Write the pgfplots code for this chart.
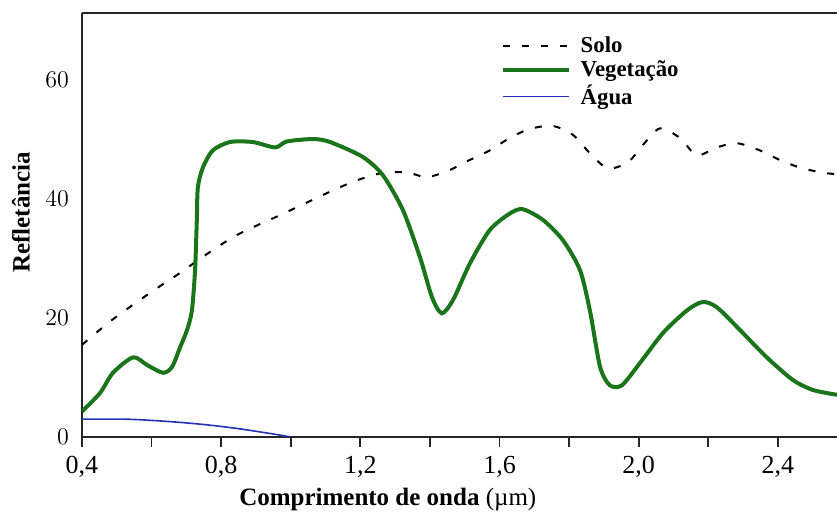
\documentclass[border=0pt]{standalone}
\usepackage{fontspec}
\setmainfont{Liberation Serif}
\usepackage{pgfplots}
\pgfplotsset{compat=1.18}
\usetikzlibrary{calc}
\definecolor{vegverde}{HTML}{1A741A}
\definecolor{aguaazul}{HTML}{2233B8}

\begin{document}
\begin{tikzpicture}
\begin{axis}[
  scale only axis, width=377.5pt, height=212pt,
  xmin=0.4, xmax=2.57, ymin=0, ymax=71.3,
  axis x line*=box, axis y line*=left,
  axis line style={line width=0.9pt, black!85},
  xtick={0.4,0.8,1.2,1.6,2.0,2.4},
  xticklabels={{0,4},{0,8},{1,2},{1,6},{2,0},{2,4}},
  minor xtick={0.6,1.0,1.4,1.8,2.2},
  xtick pos=bottom, tick align=outside,
  major tick length=5pt, minor tick length=5pt,
  every tick/.style={line width=0.9pt, black!85},
  ytick={0,20,40,60}, ytick pos=left,
  ytick style={draw=none},
  tick label style={font=\fontsize{13}{15}\selectfont},
  xticklabel style={yshift=-1pt},
  yticklabel style={xshift=2pt},
  xlabel={\textbf{Comprimento de onda} (µm)},
  xlabel style={at={(rel axis cs:0.405,0)}, anchor=north, yshift=-22pt, font=\fontsize{12.5}{14}\selectfont},
  ylabel={\textbf{Refletância}},
  ylabel style={at={(rel axis cs:0,0.53)}, anchor=south, yshift=22.5pt, font=\fontsize{12.5}{14}\selectfont},
  legend style={at={(rel axis cs:0.554,0.955)}, anchor=north west, draw=none, fill=none,
    font=\fontsize{11.4}{12}\selectfont\bfseries, inner sep=0pt, row sep=-1.2pt,
    column sep=3pt},
  legend cell align=left,
  legend image code/.code={\draw[#1] (0pt,0pt) -- (33pt,0pt);},
]
% Solo
\addplot[black, line width=1pt, dash pattern=on 3.5pt off 6pt, smooth, tension=0.5] coordinates {
(0.400,15.5)(0.480,19.4)(0.558,22.7)(0.620,25.2)(0.682,27.6)(0.760,30.8)(0.834,33.6)(0.900,35.5)(0.969,37.3)(1.060,39.8)(1.141,42.0)
(1.207,43.5)(1.265,44.4)(1.334,44.5)(1.391,43.7)(1.457,44.9)(1.515,46.6)(1.572,48.2)(1.630,50.3)(1.687,51.8)(1.753,52.3)(1.811,50.8)(1.860,47.7)
(1.911,45.2)(1.969,46.2)(2.012,49.1)(2.061,51.9)(2.118,50.3)(2.167,47.4)(2.225,48.7)(2.282,49.4)(2.348,48.2)(2.405,46.6)(2.469,45.2)(2.535,44.4)(2.570,44.2)
};
\addlegendentry{Solo}
% Vegetacao
\addplot[vegverde, line width=2pt, smooth, tension=0.45] coordinates {
(0.400,4.3)(0.452,7.4)(0.489,10.8)(0.547,13.4)(0.587,12.1)(0.633,10.8)(0.659,11.8)(0.682,15.1)(0.702,18.0)(0.716,21.3)(0.725,28.1)(0.730,36.5)(0.733,42.0)
(0.748,45.4)(0.776,48.2)(0.825,49.6)(0.891,49.6)(0.955,48.7)(0.989,49.7)(1.064,50.1)(1.113,49.6)(1.207,47.1)(1.265,44.0)(1.322,38.2)(1.371,30.3)(1.406,23.5)(1.434,20.8)
(1.466,23.0)(1.515,29.2)(1.572,34.8)(1.630,37.6)(1.667,38.3)(1.725,36.5)(1.782,33.1)(1.831,28.1)(1.860,21.2)(1.889,11.8)(1.917,8.7)(1.952,8.7)
(2.003,12.4)(2.070,17.5)(2.139,21.3)(2.184,22.7)(2.225,21.8)(2.291,18.0)(2.368,13.4)(2.443,9.6)(2.501,7.9)(2.570,7.1)
};
\addlegendentry{Vegetação}
% Agua
\addplot[aguaazul, line width=0.8pt, smooth, tension=0.5] coordinates {
(0.400,3.0)(0.500,3.0)(0.550,2.95)(0.650,2.6)(0.750,2.1)(0.850,1.4)(0.950,0.5)(1.000,0.0)
};
\addlegendentry{Água}
\end{axis}
\pgfresetboundingbox
\path ($(current axis.south west)+(-41pt,-37.5pt)$) rectangle ($(current axis.north east)+(0pt,6.5pt)$);
\end{tikzpicture}
\end{document}
